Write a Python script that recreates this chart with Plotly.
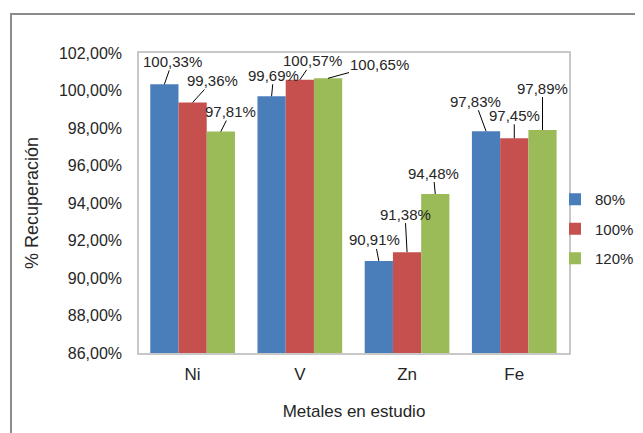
import plotly.graph_objects as go

categories = ["Ni", "V", "Zn", "Fe"]
series_names = ["80%", "100%", "120%"]
v80 = [100.33, 99.69, 90.91, 97.83]
v100 = [99.36, 100.57, 91.38, 97.45]
v120 = [97.81, 100.65, 94.48, 97.89]
series_values = [v80, v100, v120]
y_ticks = [86, 88, 90, 92, 94, 96, 98, 100, 102]
colors = ["#4A7EBB", "#C5504E", "#9BBB59"]

# label offsets (px) of each data label from its bar top: [series][category]
label_offsets = [
    [(8, -23), (2, -21), (-4, -21), (-11, -30)],
    [(20, -22), (13, -19), (-2, -38), (0, -23)],
    [(10, -20), (51, -14), (-2, -21), (0, -42)],
]

FONT = "Liberation Sans, Arial, sans-serif"
TXT = "#262626"
bargap = 0.21
OFF = 8  # page body margin
W, H = 643 - OFF, 433 - OFF
ml, mt, pw, ph = 139 - OFF, 53 - OFF, 430, 300
mr, mb = W - ml - pw, H - mt - ph


def fmt(v):
    return f"{v:.2f}".replace(".", ",") + "%"


fig = go.Figure()
for name, vals, c in zip(series_names, series_values, colors):
    fig.add_trace(go.Bar(x=categories, y=vals, name=name, legendgroup=name,
                         marker=dict(color=c, line=dict(width=0))))

bw = (1 - bargap) / len(series_names)
anns = []
for k, vals in enumerate(series_values):
    off = (k - (len(series_names) - 1) / 2) * bw
    for i, v in enumerate(vals):
        ax, ay = label_offsets[k][i]
        anns.append(dict(
            x=i + off, y=v, xref="x", yref="y", text=fmt(v),
            showarrow=True, arrowhead=0, arrowwidth=1, arrowcolor="#000",
            ax=ax, ay=ay, standoff=0, startstandoff=0,
            font=dict(family=FONT, size=15, color=TXT), borderpad=0,
        ))

fig.update_layout(
    width=W, height=H,
    margin=dict(l=ml, r=mr, t=mt, b=mb, autoexpand=False),
    paper_bgcolor="white", plot_bgcolor="white",
    barmode="group", bargap=bargap, bargroupgap=0,
    separators=", ",
    font=dict(family=FONT, color=TXT),
    annotations=anns,
    legend=dict(x=(555 - OFF - ml) / pw, y=(mt + ph - (229 - OFF)) / ph, xanchor="left", yanchor="middle",
                font=dict(family=FONT, size=15, color=TXT), bgcolor="rgba(0,0,0,0)",
                itemwidth=30, tracegroupgap=7, borderwidth=0),
    showlegend=True,
    shapes=[dict(type="rect", xref="paper", yref="paper",
                 x0=(11 - OFF - ml) / pw, x1=(700 - ml) / pw,
                 y0=-(480 - mt - ph) / ph, y1=1 + (mt - (14 - OFF)) / ph,
                 line=dict(color="#8c8c8c", width=2), fillcolor="rgba(0,0,0,0)", layer="below")],
)
fig.update_xaxes(
    showline=True, linecolor="#c8c8c8", linewidth=1.5, mirror=True,
    tickfont=dict(family=FONT, size=17, color=TXT), ticks="", ticklabelstandoff=5,
    title=dict(text="Metales en estudio", font=dict(family=FONT, size=17, color=TXT), standoff=22),
    automargin=False,
)
fig.update_yaxes(
    range=[86, 102], tickvals=y_ticks, ticktext=[fmt(t) for t in y_ticks],
    showgrid=False, zeroline=False,
    showline=True, linecolor="#c8c8c8", linewidth=1.5, mirror=True,
    ticks="", ticklabelstandoff=12,
    tickfont=dict(family=FONT, size=16, color=TXT),
    title=dict(text="% Recuperación", font=dict(family=FONT, size=18, color=TXT), standoff=16),
    automargin=False,
)
fig.write_html("out.html")
